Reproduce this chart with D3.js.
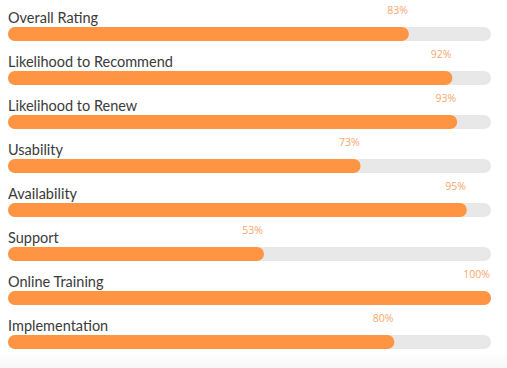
<!DOCTYPE html>
<html><head><meta charset="utf-8">
<script src="https://cdn.jsdelivr.net/npm/d3@7"></script>
<style>body{margin:0;background:#fff;}svg{display:block;}</style>
</head><body><svg id="c" width="507" height="368"></svg>
<script>
const categories = ["Overall Rating","Likelihood to Recommend","Likelihood to Renew","Usability","Availability","Support","Online Training","Implementation"];
const values = [83,92,93,73,95,53,100,80];

const svg = d3.select("#c");
const defs = svg.append("defs");
const g = defs.append("linearGradient").attr("id","bg").attr("x1",0).attr("y1",0).attr("x2",0).attr("y2",1);
g.append("stop").attr("offset","0%").attr("stop-color","#ffffff");
g.append("stop").attr("offset","100%").attr("stop-color","#f7f7f7");
svg.append("rect").attr("x",0).attr("y",352).attr("width",507).attr("height",16).attr("fill","url(#bg)");

const x = d3.scaleLinear().domain([0,100]).range([8,491]);
const y = d3.scaleBand().domain(categories).range([5,357]);
const barH = 14;

const rows = svg.selectAll("g.row").data(categories).join("g").attr("class","row")
  .attr("transform",d=>`translate(0,${y(d)})`);

rows.append("rect").attr("x",x(0)).attr("y",22).attr("width",x(100)-x(0)).attr("height",barH)
  .attr("rx",7).attr("fill","#e8e8e8");
rows.append("rect").attr("x",x(0)).attr("y",22).attr("width",(d,i)=>x(values[i])-x(0)).attr("height",barH)
  .attr("rx",7).attr("fill","#ff9442");
rows.append("text").attr("x",8).attr("y",17.5).text(d=>d)
  .attr("font-family","Lato, 'Open Sans', sans-serif").attr("font-size",14.5).attr("fill","#3a3a3a");
rows.append("text").attr("x",(d,i)=>x(values[i])-1).attr("y",8.5).attr("text-anchor","end")
  .text((d,i)=>values[i]+"%")
  .attr("font-family","'Open Sans', sans-serif").attr("font-size",10.5).attr("fill","#f9a66c");
</script></body></html>
